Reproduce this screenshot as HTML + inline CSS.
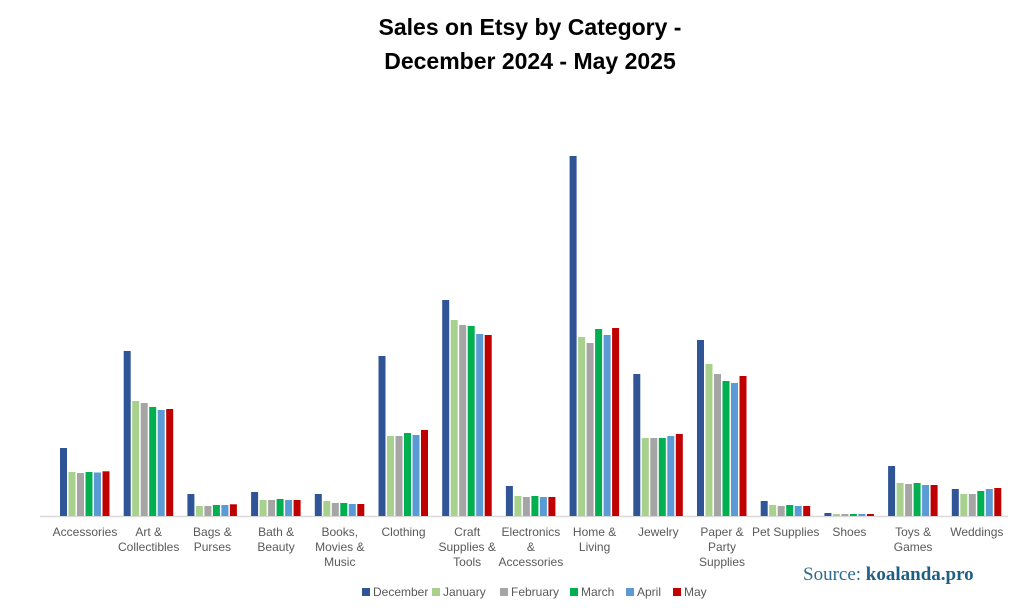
<!DOCTYPE html>
<html><head><meta charset="utf-8"><style>
body{margin:0;background:#fff;}
#wrap{position:relative;width:1024px;height:614px;overflow:hidden;font-family:"Liberation Sans",sans-serif;}
.title{position:absolute;left:0;width:1060px;text-align:center;font-weight:bold;font-size:23px;color:#000;}
.leg{position:absolute;top:585px;font-size:12px;color:#595959;}
.leg i{display:inline-block;width:8px;height:8px;margin-right:3px;vertical-align:0px;}
.cat{position:absolute;top:525px;width:90px;text-align:center;font-size:12px;line-height:15px;color:#595959;}
#src{position:absolute;left:803px;top:564px;font-family:"Liberation Serif",serif;font-size:19px;color:#2d6b8f;}
#src b{color:#1f5f85;}
</style></head><body>
<div id="wrap">
<div class="title" style="top:14px">Sales on Etsy by Category -</div>
<div class="title" style="top:48px">December 2024 - May 2025</div>
<svg id="plot" width="1024" height="614" style="position:absolute;left:0;top:0"></svg>
<div id="cats"></div>
<div id="legend"></div>
<div id="src">Source: <b>koalanda.pro</b></div>
</div>
<script>
const categories=["Accessories","Art &<br>Collectibles","Bags &<br>Purses","Bath &<br>Beauty","Books,<br>Movies &<br>Music","Clothing","Craft<br>Supplies &<br>Tools","Electronics<br>&<br>Accessories","Home &<br>Living","Jewelry","Paper &<br>Party<br>Supplies","Pet Supplies","Shoes","Toys &<br>Games","Weddings"];
const seriesNames=["December","January","February","March","April","May"];
const december=[68,165,22,24,22,160,216,30,360,142,176,15,3,50,27];
const january=[44,115,10,16,15,80,196,20,179,78,152,11,2,33,22];
const february=[43,113,10,16,13,80,191,19,173,78,142,10,2,32,22];
const march=[44,109,11,17,13,83,190,20,187,78,135,11,2,33,25];
const april=[43.5,106,11,16,12,81,182,19,181,80,133,10,2,31,27];
const may=[44.7,107,11.7,16,12,86,181,19,188,82,140,10,2,31,28];
const colors=["#2f5597","#a9d18e","#a5a5a5","#00b050","#5b9bd5","#c00000"];
const series=[december,january,february,march,april,may];
const base=516,maxV=360,maxH=360;
function y(v){return base-v/maxV*maxH;}
function gx(i){return 85+i*63.7;}
const svg=document.getElementById('plot');
const NS="http://www.w3.org/2000/svg";
const ax=document.createElementNS(NS,'line');
ax.setAttribute('x1',40);ax.setAttribute('x2',1008);ax.setAttribute('y1',base+0.5);ax.setAttribute('y2',base+0.5);
ax.setAttribute('stroke','#d9d9d9');ax.setAttribute('stroke-width','1.5');


svg.appendChild(ax);
series.forEach((s,si)=>{s.forEach((v,ci)=>{
 const r=document.createElementNS(NS,'rect');
 const x=gx(ci)-25+si*8.5;
 r.setAttribute('x',x);r.setAttribute('width',7);
 r.setAttribute('y',y(v));r.setAttribute('height',base-y(v));
 r.setAttribute('fill',colors[si]);
 
 
 svg.appendChild(r);
});});
const cats=document.getElementById('cats');
categories.forEach((c,i)=>{
 const d=document.createElement('div');d.className='cat';d.innerHTML=c;d.style.left=(gx(i)-45)+'px';
 
 
 cats.appendChild(d);
});
const legX=[362,432,500,570,626,673];
const leg=document.getElementById('legend');
seriesNames.forEach((n,i)=>{
 const d=document.createElement('div');d.className='leg';d.style.left=legX[i]+'px';
 d.innerHTML='<i style="background:'+colors[i]+'"></i>'+n;
 
 
 leg.appendChild(d);
});
</script>
</body></html>
